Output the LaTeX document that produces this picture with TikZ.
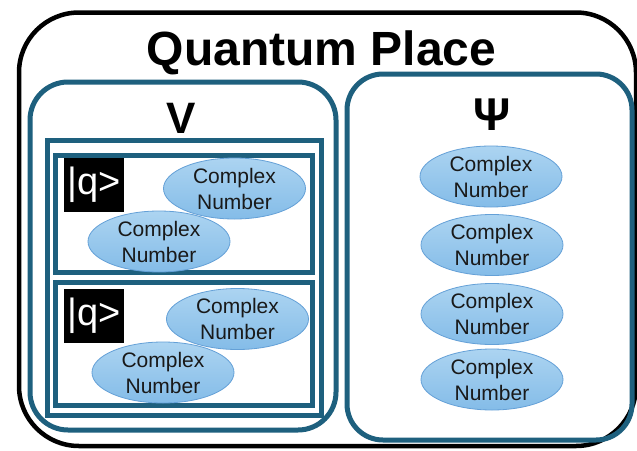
\documentclass[tikz,border=0pt]{standalone}
\usepackage{fontspec}
\setmainfont{Liberation Sans}
\usetikzlibrary{shapes.geometric}
\definecolor{teal1}{RGB}{30,96,126}
\definecolor{elltop}{RGB}{172,212,241}
\definecolor{ellbot}{RGB}{132,188,232}
\definecolor{elldraw}{RGB}{100,160,215}
\definecolor{txt}{RGB}{25,25,25}
\tikzset{
  outerbox/.style={draw=black, line width=4.5pt, rounded corners=60pt, inner sep=0pt},
  tealbox/.style={draw=teal1, line width=5pt, rounded corners=#1, inner sep=0pt},
  tealbox/.default=0pt,
  cnum/.style={ellipse, draw=elldraw, line width=0.8pt, top color=elltop, bottom color=ellbot,
    minimum width=142pt, minimum height=61pt, inner sep=0pt, align=center,
    text=txt, font=\fontsize{21}{26}\selectfont},
  qlabel/.style={fill=black, text=white, minimum width=60pt, minimum height=54pt, inner sep=0pt,
    font=\fontsize{38}{38}\selectfont},
  heading/.style={anchor=base, font=\bfseries\fontsize{#1}{#1}\selectfont, inner sep=0pt},
}
\begin{document}
\begin{tikzpicture}[x=1pt,y=-1pt]
\useasboundingbox (0,0) rectangle (637,450);
\fill[white] (0,0) rectangle (637,450);
% outer
\node[outerbox, minimum width=617pt, minimum height=433.5pt] (outer) at (327.5,229.25) {};
\node[heading=48] (title) at (321.5,65) {Quantum Place};
% V box
\node[tealbox=38pt, minimum width=306pt, minimum height=348pt] (vbox) at (183,256) {};
\node[heading=44] (vlab) at (181,133) {V};
\node[tealbox, minimum width=274pt, minimum height=274.5pt] (cont) at (184.5,277.75) {};
\node[tealbox, minimum width=257pt, minimum height=117.5pt] (q1) at (184,213.75) {};
\node[tealbox, minimum width=257pt, minimum height=122.5pt] (q2) at (184,343.75) {};
\node[qlabel] (ql1) at (94,185) {|q>};
\node[qlabel] (ql2) at (94,315.5) {|q>};
\node[cnum] (a1) at (234.5,188.5) {Complex\\Number};
\node[cnum] (b1) at (159,241.5) {Complex\\Number};
\node[cnum] (a2) at (237.5,319) {Complex\\Number};
\node[cnum] (b2) at (163,372.5) {Complex\\Number};
% Psi box
\node[tealbox=36pt, minimum width=285pt, minimum height=366pt] (psibox) at (489.5,257) {};
\node[heading=46] (psilab) at (492,130) {Ψ};
\node[cnum] (p1) at (491,176.5) {Complex\\Number};
\node[cnum] (p2) at (492,245) {Complex\\Number};
\node[cnum] (p3) at (492,314) {Complex\\Number};
\node[cnum] (p4) at (492,379.5) {Complex\\Number};
\end{tikzpicture}
\end{document}
